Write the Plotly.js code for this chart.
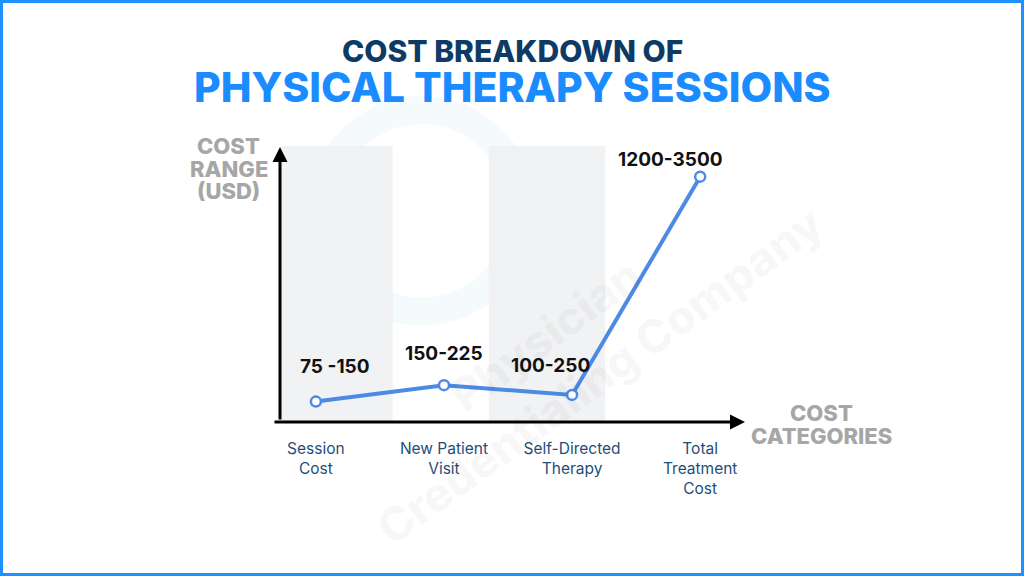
<!DOCTYPE html>
<html>
<head>
<meta charset="utf-8">
<script src="https://cdn.plot.ly/plotly-3.0.1.min.js"></script>
<style>
  html, body { margin: 0; padding: 0; background: #fff; }
  #wrap { position: relative; width: 1024px; height: 576px; }
  #plot { width: 1024px; height: 576px; }
  #frame { position: absolute; left: 0; top: 0; width: 1024px; height: 576px;
           box-sizing: border-box; border: 3px solid #1e90ff; pointer-events: none; }
</style>
</head>
<body>
<div id="wrap"><div id="plot"></div><div id="frame"></div></div>
<script>
// Cost categories and their (illustrative) plotted heights
const categories = ["Session<br>Cost", "New Patient<br>Visit", "Self-Directed<br>Therapy", "Total<br>Treatment<br>Cost"];
const costValues = [200, 360, 265, 2400];
const rangeLabels = ["75 -150", "150-225", "100-250", "1200-3500"];

const COLORS = {
  line:   "#4d8ae6",
  navy:   "#0d3b66",
  blue:   "#1a8cff",
  gray:   "#a6a6a6",
  tick:   "#1f4e79",
  axis:   "#000000",
};
const FONT = "Inter, 'Open Sans', sans-serif";

const xIdx = categories.map((_, i) => i);

const trace = {
  x: xIdx, y: costValues, type: "scatter", mode: "lines+markers",
  line: { color: COLORS.line, width: 4 },
  marker: { color: "#ffffff", size: 10, line: { color: COLORS.line, width: 2.5 } },
  hoverinfo: "skip", cliponaxis: false,
};

// label offsets relative to each point (pixels)
const labelShift = [[19, 35], [0, 32], [-22, 29], [-30, 17]];
const valueLabels = rangeLabels.map((t, i) => ({
  x: i, y: costValues[i], xref: "x", yref: "y", text: t, showarrow: false,
  xanchor: "center", yanchor: "middle",
  xshift: labelShift[i][0], yshift: labelShift[i][1],
  font: { family: FONT, size: 19, color: "#111", weight: 700 },
}));

// paper-anchored text helper
const centered = (o) => ({ xref: "paper", yref: "paper", showarrow: false,
  xanchor: "center", yanchor: "middle", align: "center", ...o });

const axisFont = { family: FONT, size: 22, color: COLORS.gray, weight: 800 };

const annotations = [
  // watermark
  centered({ text: "Physician", x: 0.57, y: 0.315, textangle: -36,
    font: { family: FONT, size: 46, color: "rgba(0,0,0,0.035)", weight: 800 } }),
  centered({ text: "Credentialing Company", x: 0.688, y: 0.17, textangle: -36,
    font: { family: FONT, size: 46, color: "rgba(0,0,0,0.035)", weight: 800 } }),
  ...valueLabels,
  // titles
  centered({ text: "COST BREAKDOWN OF", x: 0.499, y: 1.345,
    font: { family: FONT, size: 30, color: COLORS.navy, weight: 800 } }),
  centered({ text: "PHYSICAL THERAPY SESSIONS", x: 0.499, y: 1.213,
    font: { family: FONT, size: 41, color: COLORS.blue, weight: 800 } }),
  // axis titles, one line each for tight leading
  centered({ text: "COST",  x: -0.11, y: 1.0,   font: axisFont }),
  centered({ text: "RANGE", x: -0.11, y: 0.917, font: axisFont }),
  centered({ text: "(USD)", x: -0.11, y: 0.837, font: axisFont }),
  centered({ text: "COST",       x: 1.164, y: 0.033,  font: axisFont }),
  centered({ text: "CATEGORIES", x: 1.164, y: -0.051, font: axisFont }),
  // axis arrows
  { xref: "paper", yref: "paper", x: 0, y: 0.996, ax: 0, ay: 274, axref: "pixel", ayref: "pixel",
    showarrow: true, arrowhead: 2, arrowsize: 1, arrowwidth: 3, arrowcolor: COLORS.axis, text: "" },
  { xref: "paper", yref: "paper", x: 1.0, y: 0, ax: -472, ay: 0, axref: "pixel", ayref: "pixel",
    showarrow: true, arrowhead: 2, arrowsize: 1, arrowwidth: 3, arrowcolor: COLORS.axis, text: "" },
];

const shapes = [
  { type: "circle", xref: "paper", yref: "paper", x0: 0.09, x1: 0.52, y0: 0.4, y1: 1.13,
    line: { color: "rgba(170,215,230,0.12)", width: 28 }, layer: "below" },
  { type: "rect", xref: "x", yref: "paper", x0: -0.27, x1: 0.6, y0: 0, y1: 1,
    fillcolor: "rgba(236,238,240,0.75)", line: { width: 0 }, layer: "below" },
  { type: "rect", xref: "x", yref: "paper", x0: 1.35, x1: 2.26, y0: 0, y1: 1,
    fillcolor: "rgba(236,238,240,0.75)", line: { width: 0 }, layer: "below" },
];

const layout = {
  width: 1024, height: 576,
  paper_bgcolor: "#ffffff", plot_bgcolor: "rgba(0,0,0,0)",
  margin: { l: 280, r: 279, t: 146, b: 154 },
  showlegend: false,
  xaxis: {
    range: [-0.28, 3.35], showgrid: false, zeroline: false, showline: false,
    tickvals: xIdx, ticktext: categories, ticks: "", ticklabelstandoff: 15,
    tickfont: { family: FONT, size: 15.5, color: COLORS.tick },
    fixedrange: true,
  },
  yaxis: {
    range: [0, 2700], showgrid: false, zeroline: false, showline: false,
    showticklabels: false, ticks: "", fixedrange: true,
  },
  shapes, annotations,
};

Plotly.newPlot("plot", [trace], layout, { displayModeBar: false, staticPlot: true });
</script>
</body>
</html>
